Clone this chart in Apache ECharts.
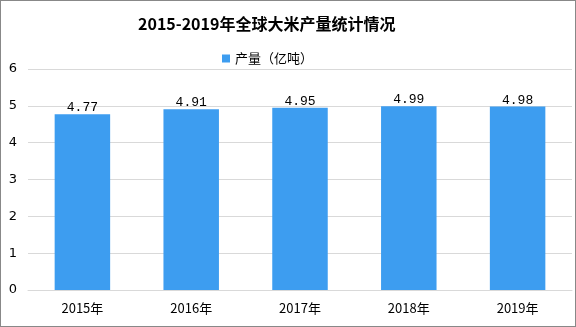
<!DOCTYPE html>
<html><head><meta charset="utf-8">
<script src="https://cdn.jsdelivr.net/npm/echarts@6/dist/echarts.min.js"></script>
<style>html,body{margin:0;padding:0;background:#fff}#c{width:576px;height:327px;box-sizing:border-box;border:1px solid #888}</style>
</head><body><div id="c"></div>
<script>
const categories = ['2015年','2016年','2017年','2018年','2019年'];
const values = [4.77, 4.91, 4.95, 4.99, 4.98];
const seriesName = '产量（亿吨）';
const chart = echarts.init(document.getElementById('c'));
chart.setOption({
  animation:false,
  title:{text:'2015-2019年全球大米产量统计情况',left:132,top:10,
    textStyle:{fontFamily:'"Noto Sans CJK SC","DejaVu Serif",serif',fontWeight:'bold',fontSize:16,color:'#000'}},
  legend:{data:[seriesName],top:46,left:216,itemWidth:8,itemHeight:8,itemGap:3,icon:'rect',
    textStyle:{fontFamily:'"Noto Sans CJK SC",sans-serif',fontSize:13,color:'#000'}},
  grid:{left:27,right:3,top:68,bottom:36},
  xAxis:{type:'category',data:categories,
    axisLine:{lineStyle:{color:'#d9d9d9'}},axisTick:{show:false},
    axisLabel:{color:'#000',fontSize:13,margin:12,fontFamily:'"Noto Sans CJK SC","DejaVu Serif",serif'}},
  yAxis:{type:'value',min:0,max:6,interval:1,
    axisLine:{show:false},axisTick:{show:false},
    splitLine:{lineStyle:{color:'#d9d9d9'}},
    axisLabel:{color:'#000',fontSize:13,margin:11,fontFamily:'"DejaVu Sans",sans-serif'}},
  series:[{name:seriesName,type:'bar',data:values,barWidth:'51%',
    itemStyle:{color:'#3d9df0'},
    label:{show:true,position:'top',color:'#000',fontSize:13,distance:0,fontFamily:'"Liberation Mono",monospace'}}]
});
</script></body></html>
